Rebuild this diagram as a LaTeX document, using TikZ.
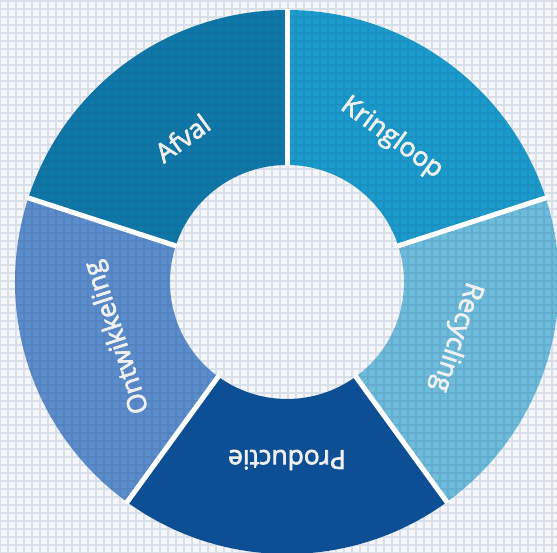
\documentclass[tikz,border=0pt]{standalone}
\usepackage{fontspec}
\setmainfont{Open Sans}
\newfontfamily\ringfont{Open Sans}[FakeBold=2.6]
\usepackage[usenames,svgnames]{xcolor}

\definecolor{afvalblue}{HTML}{0E78A8}
\definecolor{kringblue}{HTML}{1A9BCB}
\definecolor{recyblue}{HTML}{6DBCDC}
\definecolor{prodblue}{HTML}{0B4F96}
\definecolor{ontwblue}{HTML}{5B8CCB}
\definecolor{linen}{HTML}{F4F6F9}
\definecolor{weave}{HTML}{2A4A7A}

\begin{document}
\begin{tikzpicture}[x=0.02cm,y=0.02cm,font=\ringfont\fontsize{15}{18}\selectfont,
  label/.style={text=white!94!black,inner sep=0pt},
  gap/.style={draw=white,line width=0.1cm}]

  \useasboundingbox (0,0) rectangle (557,553);
  \clip (0,0) rectangle (557,553);
  \fill[linen] (0,0) rectangle (557,553);

  \begin{scope}[shift={(287,271)}]
    % ring segments
    \fill[kringblue] (90:117) arc[start angle=90,end angle=18,radius=117] -- (18:272) arc[start angle=18,end angle=90,radius=272] -- cycle;
    \fill[recyblue] (18:117) arc[start angle=18,end angle=-54,radius=117] -- (-54:272) arc[start angle=-54,end angle=18,radius=272] -- cycle;
    \fill[prodblue] (-54:117) arc[start angle=-54,end angle=-126,radius=117] -- (-126:272) arc[start angle=-126,end angle=-54,radius=272] -- cycle;
    \fill[ontwblue] (-126:117) arc[start angle=-126,end angle=-198,radius=117] -- (-198:272) arc[start angle=-198,end angle=-126,radius=272] -- cycle;
    \fill[afvalblue] (162:117) arc[start angle=162,end angle=90,radius=117] -- (90:272) arc[start angle=90,end angle=162,radius=272] -- cycle;
  \end{scope}

  % woven texture
  \draw[weave,opacity=0.13,line width=1.3pt,step=8] (0,0) grid (557,553);

  \begin{scope}[shift={(287,271)}]
    % white gaps between segments
    \draw[gap] (90:116) -- (90:273);
    \draw[gap] (18:116) -- (18:273);
    \draw[gap] (-54:116) -- (-54:273);
    \draw[gap] (-126:116) -- (-126:273);
    \draw[gap] (162:116) -- (162:273);

    \node[label,rotate=36] (afval) at (126:178) {Afval};
    \node[label,rotate=-36] (kring) at (54:178) {Kringloop};
    \node[label,rotate=-108] (recy) at (-18:178) {Recycling};
    \node[label,rotate=-180] (prod) at (-90:178) {Productie};
    \node[label,rotate=108] (ontw) at (198:178) {Ontwikkeling};
  \end{scope}

\end{tikzpicture}
\end{document}
